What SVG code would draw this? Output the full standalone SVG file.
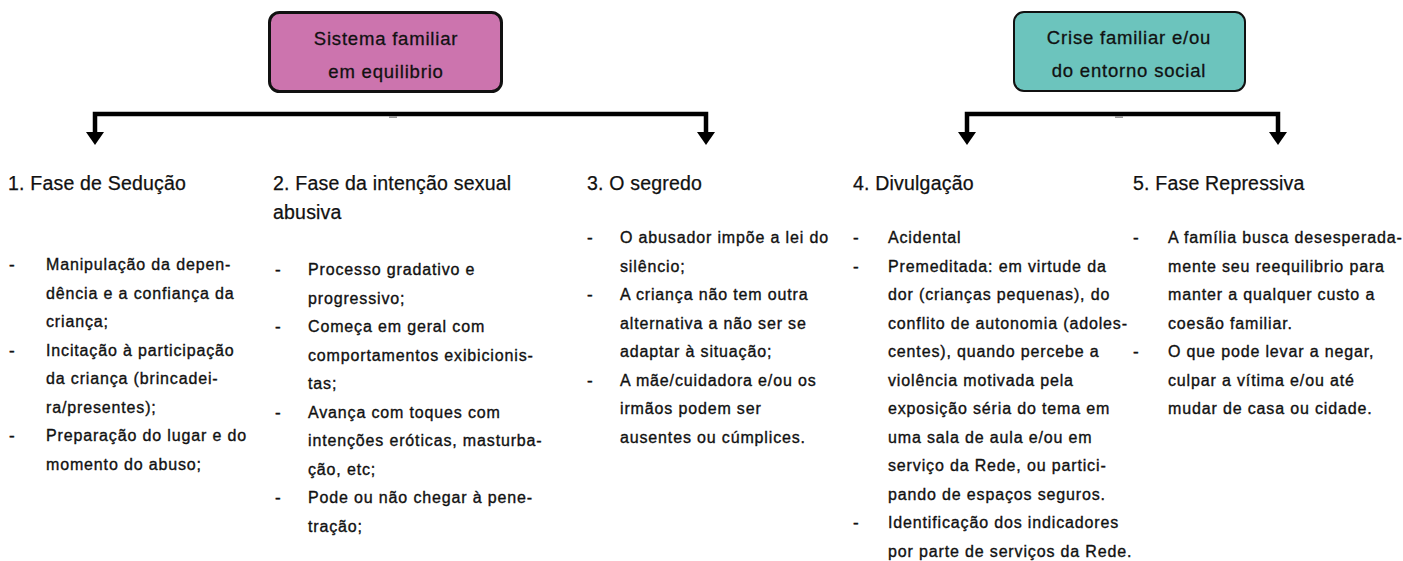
<svg xmlns="http://www.w3.org/2000/svg" width="1403" height="561" viewBox="0 0 1403 561">
<style>
.box1{fill:#cc74ae;stroke:#111;stroke-width:3}
.box2{fill:#6cc4bd;stroke:#111;stroke-width:2}
.bt{font-family:"Liberation Sans",Arial,sans-serif;font-size:18.5px;letter-spacing:0.8px;fill:#111;stroke:#111;stroke-width:0.3;text-anchor:middle}
.h{font-family:"Liberation Sans",Arial,sans-serif;font-size:19.5px;letter-spacing:0.2px;fill:#111;stroke:#111;stroke-width:0.25}
.t{font-family:"Liberation Sans",Arial,sans-serif;font-size:16px;letter-spacing:0.85px;fill:#111;stroke:#111;stroke-width:0.35}
.d{font-family:"Liberation Sans",Arial,sans-serif;font-size:17px;fill:#111;stroke:#111;stroke-width:0.4}
.ln{fill:none;stroke:#000;stroke-width:4.5}
.tick{fill:#9a9a9a}
</style>

<g id="node-sistema">
<rect class="box1" x="269.5" y="12.5" width="232" height="79" rx="10"/>
<text class="bt" x="386" y="45">Sistema familiar</text>
<text class="bt" x="386" y="78">em equilibrio</text>
</g>

<g id="node-crise">
<rect class="box2" x="1014" y="12" width="231" height="79" rx="10"/>
<text class="bt" x="1129" y="44">Crise familiar e/ou</text>
<text class="bt" x="1129" y="77">do entorno social</text>
</g>

<g id="connectors">
<path class="ln" d="M95,133 V114 H706 V133"/>
<path d="M86,132 L104,132 L95,145 Z" fill="#000"/>
<path d="M697,132 L715,132 L706,145 Z" fill="#000"/>
<rect class="tick" x="389" y="116" width="8" height="2"/>
<path class="ln" d="M967,133 V114 H1278 V133"/>
<path d="M958,132 L976,132 L967,145 Z" fill="#000"/>
<path d="M1269,132 L1287,132 L1278,145 Z" fill="#000"/>
<rect class="tick" x="1115" y="116" width="8" height="2"/>
</g>

<g id="node-fase1">
<text class="h" x="8" y="190">1. Fase de Sedução</text>
<text class="d" x="9" y="270">-</text>
<text class="t" x="46" y="270">Manipulação da depen-</text>
<text class="t" x="46" y="298.5">dência e a confiança da</text>
<text class="t" x="46" y="327">criança;</text>
<text class="d" x="9" y="355.5">-</text>
<text class="t" x="46" y="355.5">Incitação à participação</text>
<text class="t" x="46" y="384">da criança (brincadei-</text>
<text class="t" x="46" y="412.5">ra/presentes);</text>
<text class="d" x="9" y="441">-</text>
<text class="t" x="46" y="441">Preparação do lugar e do</text>
<text class="t" x="46" y="469.5">momento do abuso;</text>
</g>

<g id="node-fase2">
<text class="h" x="273" y="190">2. Fase da intenção sexual</text>
<text class="h" x="273" y="219">abusiva</text>
<text class="d" x="275" y="275">-</text>
<text class="t" x="308" y="275">Processo gradativo e</text>
<text class="t" x="308" y="303.5">progressivo;</text>
<text class="d" x="275" y="332">-</text>
<text class="t" x="308" y="332">Começa em geral com</text>
<text class="t" x="308" y="360.5">comportamentos exibicionis-</text>
<text class="t" x="308" y="389">tas;</text>
<text class="d" x="275" y="417.5">-</text>
<text class="t" x="308" y="417.5">Avança com toques com</text>
<text class="t" x="308" y="446">intenções eróticas, masturba-</text>
<text class="t" x="308" y="474.5">ção, etc;</text>
<text class="d" x="275" y="503">-</text>
<text class="t" x="308" y="503">Pode ou não chegar à pene-</text>
<text class="t" x="308" y="531.5">tração;</text>
</g>

<g id="node-fase3">
<text class="h" x="587" y="190">3. O segredo</text>
<text class="d" x="587" y="243">-</text>
<text class="t" x="620" y="243">O abusador impõe a lei do</text>
<text class="t" x="620" y="271.5">silêncio;</text>
<text class="d" x="587" y="300">-</text>
<text class="t" x="620" y="300">A criança não tem outra</text>
<text class="t" x="620" y="328.5">alternativa a não ser se</text>
<text class="t" x="620" y="357">adaptar à situação;</text>
<text class="d" x="587" y="385.5">-</text>
<text class="t" x="620" y="385.5">A mãe/cuidadora e/ou os</text>
<text class="t" x="620" y="414">irmãos podem ser</text>
<text class="t" x="620" y="442.5">ausentes ou cúmplices.</text>
</g>

<g id="node-fase4">
<text class="h" x="853" y="190">4. Divulgação</text>
<text class="d" x="853" y="243">-</text>
<text class="t" x="888" y="243">Acidental</text>
<text class="d" x="853" y="271.5">-</text>
<text class="t" x="888" y="271.5">Premeditada: em virtude da</text>
<text class="t" x="888" y="300">dor (crianças pequenas), do</text>
<text class="t" x="888" y="328.5">conflito de autonomia (adoles-</text>
<text class="t" x="888" y="357">centes), quando percebe a</text>
<text class="t" x="888" y="385.5">violência motivada pela</text>
<text class="t" x="888" y="414">exposição séria do tema em</text>
<text class="t" x="888" y="442.5">uma sala de aula e/ou em</text>
<text class="t" x="888" y="471">serviço da Rede, ou partici-</text>
<text class="t" x="888" y="499.5">pando de espaços seguros.</text>
<text class="d" x="853" y="528">-</text>
<text class="t" x="888" y="528">Identificação dos indicadores</text>
<text class="t" x="888" y="556.5">por parte de serviços da Rede.</text>
</g>

<g id="node-fase5">
<text class="h" x="1133" y="190">5. Fase Repressiva</text>
<text class="d" x="1133" y="243">-</text>
<text class="t" x="1168" y="243">A família busca desesperada-</text>
<text class="t" x="1168" y="271.5">mente seu reequilibrio para</text>
<text class="t" x="1168" y="300">manter a qualquer custo a</text>
<text class="t" x="1168" y="328.5">coesão familiar.</text>
<text class="d" x="1133" y="357">-</text>
<text class="t" x="1168" y="357">O que pode levar a negar,</text>
<text class="t" x="1168" y="385.5">culpar a vítima e/ou até</text>
<text class="t" x="1168" y="414">mudar de casa ou cidade.</text>
</g>
</svg>
